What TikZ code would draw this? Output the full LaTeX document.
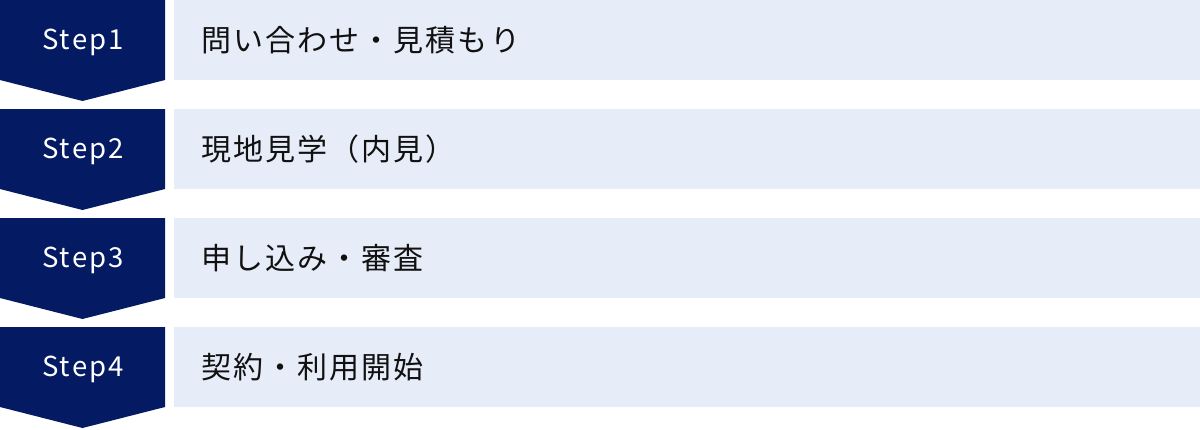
\documentclass[tikz,border=0pt]{standalone}
\usepackage{fontspec}
\setmainfont{Noto Sans CJK JP}
\newfontfamily\stepfont[LetterSpace=8]{Noto Sans CJK JP}
\newfontfamily\jpfont[LetterSpace=7]{Noto Sans CJK JP}
\definecolor{navy}{HTML}{041A63}
\definecolor{lightbox}{HTML}{E7ECF9}
\definecolor{textdark}{HTML}{111111}
\tikzset{
  arrowshape/.style={fill=navy},
  steplabel/.style={text=white,font=\stepfont\fontsize{27.5}{30}\selectfont,anchor=center,inner sep=0pt},
  bar/.style={fill=lightbox},
  bartext/.style={text=textdark,font=\jpfont\fontsize{30}{34}\selectfont,anchor=west,inner sep=0pt},
}
\begin{document}
\begin{tikzpicture}[x=1pt,y=-1pt]
\useasboundingbox (0,0) rectangle (1200,429);
\fill[white] (0,0) rectangle (1200,429);
\foreach \i/\t in {0/問い合わせ・見積もり,1/現地見学（内見）,2/申し込み・審査,3/契約・利用開始}{
  \pgfmathsetmacro{\y}{109*\i}
  \fill[arrowshape] (0,\y) -- (165,\y) -- (165,\y+80) -- (82.5,\y+101) -- (0,\y+80) -- cycle;
  \fill[bar] (174,\y) rectangle (1200,\y+80);
  \pgfmathtruncatemacro{\n}{\i+1}
  \node[steplabel] (step\n) at (83,\y+42) {Step\n};
  \node[bartext] (task\n) at (201,\y+40) {\t};
}
\end{tikzpicture}
\end{document}
